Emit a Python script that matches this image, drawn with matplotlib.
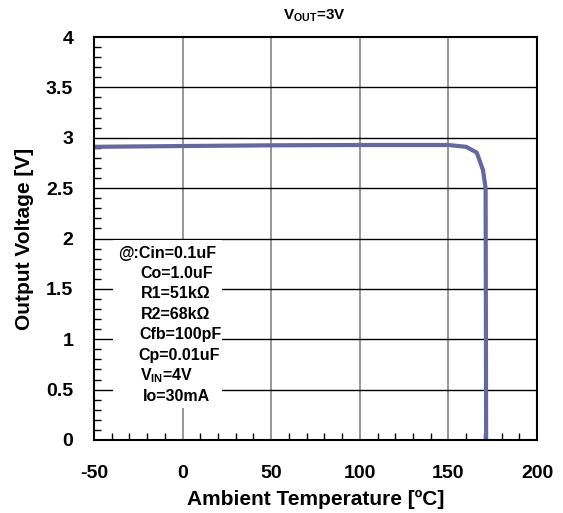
import matplotlib
matplotlib.use("Agg")
import matplotlib.pyplot as plt
from matplotlib.patches import Rectangle
from matplotlib.ticker import MultipleLocator

plt.rcParams['font.family'] = ['Liberation Sans', 'DejaVu Sans']
plt.rcParams['font.weight'] = 'bold'
plt.rcParams['axes.unicode_minus'] = False
plt.rcParams['mathtext.fontset'] = 'custom'
plt.rcParams['mathtext.rm'] = 'Liberation Sans:bold'
plt.rcParams['mathtext.it'] = 'Liberation Sans:bold'
plt.rcParams['mathtext.bf'] = 'Liberation Sans:bold'

# Data
temperature = [-50, 0, 50, 100, 150, 160, 166, 169.5, 171, 171.3]
output_voltage = [2.91, 2.918, 2.925, 2.928, 2.928, 2.91, 2.853, 2.68, 2.5, 0.0]

x_ticks = [-50, 0, 50, 100, 150, 200]
y_ticks = [0, 0.5, 1, 1.5, 2, 2.5, 3, 3.5, 4]
y_tick_labels = ['0', '0.5', '1', '1.5', '2', '2.5', '3', '3.5', '4']

conditions = ['@:Cin=0.1uF', 'Co=1.0uF', 'R1=51kΩ', 'R2=68kΩ', 'Cfb=100pF',
              'Cp=0.01uF', r'V$_{\rm IN}$=4V', 'Io=30mA']

fig = plt.figure(figsize=(5.63, 5.13), dpi=100)
ax = fig.add_axes([94/563, 1-440/513, 443/563, 403/513])

ax.set_xlim(-50, 200)
ax.set_ylim(0, 4)

# grid lines
for xv in x_ticks[1:-1]:
    ax.axvline(xv, color='#7a7a7a', lw=1.1, zorder=1)
for yv in y_ticks[1:-1]:
    ax.axhline(yv, color='black', lw=1.0, zorder=1)

# white box behind condition text
ax.add_patch(Rectangle((19/443, 32/403), 109/443, 168/403, transform=ax.transAxes,
                       facecolor='white', edgecolor='none', zorder=2))

ax.plot(temperature, output_voltage, color='#6468a2', lw=3.0, zorder=4,
        solid_joinstyle='round', solid_capstyle='butt')

# condition text
line_y = [253.3, 273.6, 294, 314.5, 335, 355.3, 375.6, 396.5]
line_x = [167.5, 176.7, 176, 176, 180, 178.8, 167, 176.7]
for txt, px, py in zip(conditions, line_x, line_y):
    ax.text((px-94)/443, (440-py)/403, txt, transform=ax.transAxes,
            ha='center', va='center', fontsize=11.5, fontweight='bold', zorder=5)

ax.set_xticks(x_ticks)
ax.set_yticks(y_ticks)
ax.set_yticklabels(y_tick_labels)
ax.xaxis.set_minor_locator(MultipleLocator(10))
ax.yaxis.set_minor_locator(MultipleLocator(0.1))
ax.tick_params(axis='both', which='major', direction='in', length=0, labelsize=14)
ax.tick_params(axis='x', which='major', pad=18)
ax.tick_params(axis='y', which='major', pad=15)
ax.tick_params(axis='both', which='minor', direction='in', length=5, width=1.0)
ax.tick_params(top=False, right=False, which='both')
for lab in ax.get_xticklabels() + ax.get_yticklabels():
    lab.set_fontweight('bold')

for sp in ax.spines.values():
    sp.set_linewidth(1.5)
    sp.set_zorder(6)

ax.set_xlabel('Ambient Temperature [ºC]', fontsize=15, fontweight='bold')
ax.set_ylabel('Output Voltage [V]', fontsize=15, fontweight='bold')
ax.xaxis.set_label_coords(0.5, (440-490)/403)
ax.yaxis.set_label_coords((34-94)/443, 0.5)

fig.text(314/563, 1-16/513, r'V$_{\rm OUT}$=3V', ha='center', va='center',
         fontsize=11, fontweight='bold')

fig.savefig('out.png', dpi=100)
